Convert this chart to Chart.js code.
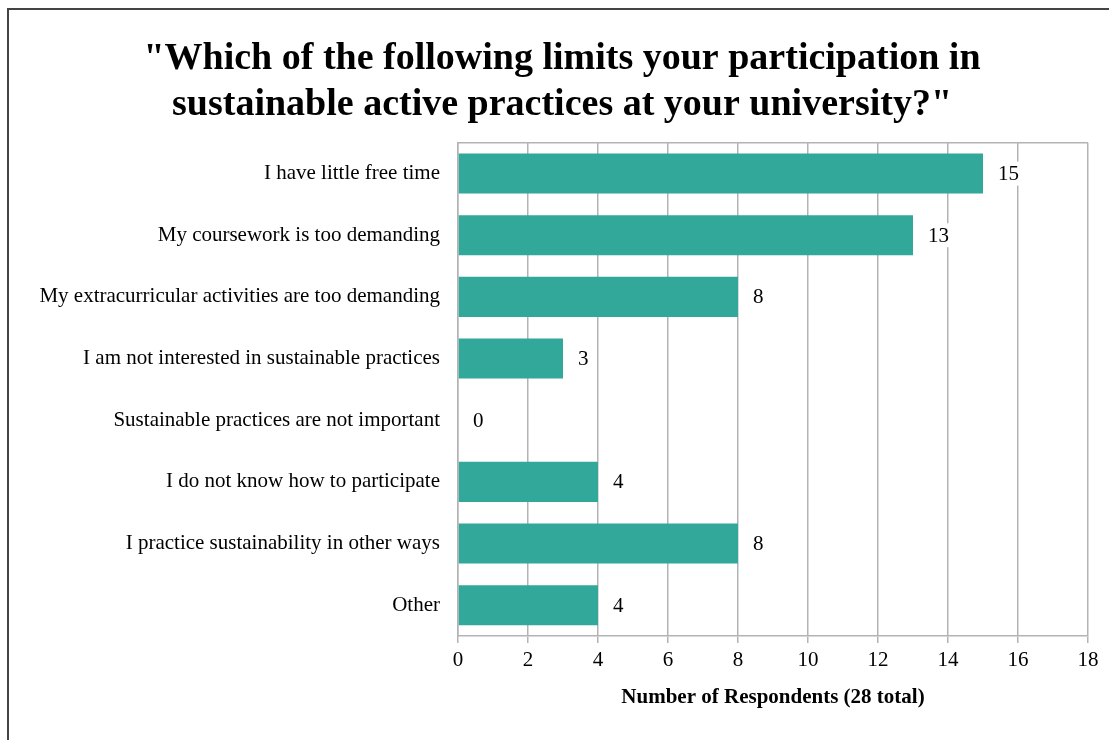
<!DOCTYPE html>
<html>
<head>
<meta charset="utf-8">
<script src="https://cdn.jsdelivr.net/npm/chart.js@4"></script>
<style>
  html, body { margin: 0; padding: 0; background: #fff; overflow: hidden; }
  #frame { position: absolute; left: 7px; top: 8px; width: 1200px; height: 800px; border: 2px solid #444; }
  #wrap { position: absolute; left: 0; top: 0; width: 1109px; height: 740px; }
</style>
</head>
<body>
<div id="frame"></div>
<div id="wrap"><canvas id="myChart" width="1109" height="740"></canvas></div>
<script>
var reasons = [
  "I have little free time",
  "My coursework is too demanding",
  "My extracurricular activities are too demanding",
  "I am not interested in sustainable practices",
  "Sustainable practices are not important",
  "I do not know how to participate",
  "I practice sustainability in other ways",
  "Other"
]
var respondents = [15, 13, 8, 3, 0, 4, 8, 4]
var xTicks = [0, 2, 4, 6, 8, 10, 12, 14, 16, 18]

var serif = "'Liberation Serif', 'Times New Roman', serif"

// box line along the top of the plot area
var topBorder = {
  id: 'topBorder',
  afterDraw: function(chart) {
    var a = chart.chartArea, ctx = chart.ctx
    ctx.save()
    ctx.strokeStyle = '#b3b3b3'
    ctx.lineWidth = 1.5
    ctx.beginPath()
    ctx.moveTo(a.left, a.top)
    ctx.lineTo(a.right, a.top)
    ctx.stroke()
    ctx.restore()
  }
}

// value labels on a white patch past the bar end
var valueLabels = {
  id: 'valueLabels',
  afterDatasetsDraw: function(chart) {
    var ctx = chart.ctx
    var meta = chart.getDatasetMeta(0)
    ctx.save()
    ctx.font = '21px ' + serif
    ctx.textBaseline = 'middle'
    ctx.textAlign = 'left'
    meta.data.forEach(function(bar, i) {
      var txt = String(respondents[i])
      var x = bar.x + 15
      var w = ctx.measureText(txt).width
      ctx.fillStyle = '#fff'
      ctx.fillRect(x - 2, bar.y - 12, w + 4, 24)
      ctx.fillStyle = '#000'
      ctx.fillText(txt, x, bar.y + 1)
    })
    ctx.restore()
  }
}

var ctx = document.getElementById("myChart").getContext('2d')

var chart = new Chart(ctx, {
  type: 'bar',
  data: {
    labels: reasons,
    datasets: [{
      data: respondents,
      backgroundColor: '#31a899',
      borderWidth: 0,
      barPercentage: 0.65,
      categoryPercentage: 1.0
    }]
  },
  options: {
    indexAxis: 'y',
    responsive: false,
    animation: false,
    layout: { padding: { left: 36, right: 21, top: 0, bottom: 30 } },
    plugins: {
      legend: { display: false },
      tooltip: { enabled: false },
      title: {
        display: true,
        text: ['"Which of the following limits your participation in', 'sustainable active practices at your university?"'],
        color: '#000',
        font: { family: serif, size: 38, weight: 'bold', lineHeight: 1.22 },
        padding: { top: 36, bottom: 14 }
      }
    },
    scales: {
      x: {
        min: 0,
        max: 18,
        afterBuildTicks: function(scale) {
          scale.ticks = xTicks.map(function(v) { return { value: v } })
        },
        afterFit: function(scale) { scale.height = 74 },
        grid: { color: '#b3b3b3', lineWidth: 1.5, tickLength: 7, tickColor: '#b3b3b3' },
        border: { color: '#b3b3b3', width: 1.5 },
        ticks: { color: '#000', font: { family: serif, size: 21 }, padding: 5 },
        title: {
          display: true,
          text: 'Number of Respondents (28 total)',
          color: '#000',
          font: { family: serif, size: 21, weight: 'bold' },
          padding: { top: 6, bottom: 0 }
        }
      },
      y: {
        afterFit: function(scale) { scale.width = 422 },
        grid: { display: false, drawTicks: false },
        border: { color: '#b3b3b3', width: 1.5 },
        ticks: { color: '#000', font: { family: serif, size: 21 }, padding: 18 }
      }
    }
  },
  plugins: [topBorder, valueLabels]
})
</script>
</body>
</html>
